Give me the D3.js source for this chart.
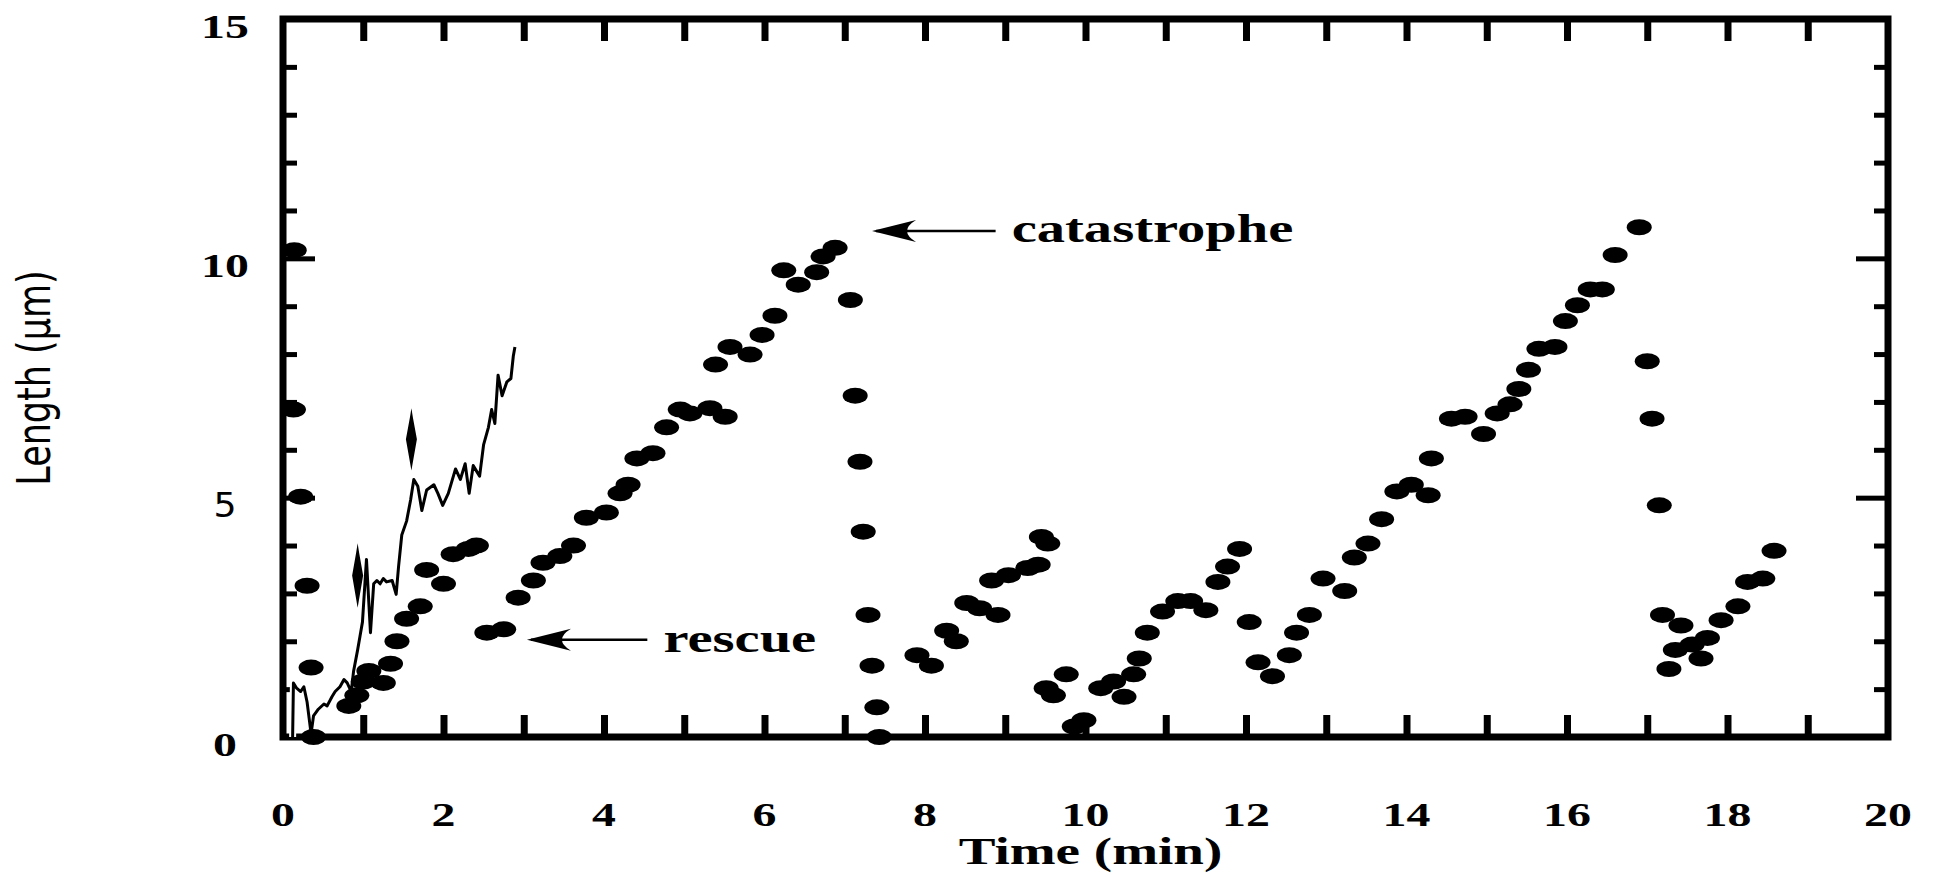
<!DOCTYPE html>
<html lang="en">
<head>
<meta charset="utf-8">
<script src="https://cdnjs.cloudflare.com/ajax/libs/d3/7.8.5/d3.min.js"></script>
<style>
  body { margin: 0; background: #fff; }
  svg { display: block; }
  .lbl { font-family: "Liberation Serif", "DejaVu Serif", serif; font-weight: bold; fill: #000; }
</style>
</head>
<body>
<script>
// ---- data (time in min, length in µm) ----
var dotTime = [
  0.14, 0.13, 0.22, 0.30, 0.35, 0.38,
  0.82, 0.92, 1.00, 1.07, 1.25, 1.34, 1.42, 1.54, 1.71, 1.79, 2.00, 2.12, 2.31, 2.41,
  2.54, 2.75, 2.93, 3.12, 3.24, 3.45, 3.62, 3.78, 4.03, 4.20, 4.30, 4.41, 4.61, 4.78, 4.95,
  5.07, 5.32, 5.51, 5.39, 5.57, 5.82, 5.97, 6.13, 6.24, 6.42, 6.65, 6.73, 6.88,
  7.07, 7.13, 7.19, 7.23, 7.29, 7.34, 7.40, 7.43,
  7.90, 8.08, 8.27, 8.39, 8.52, 8.68, 8.91, 8.83, 9.04, 9.28, 9.41, 9.45, 9.53,
  9.51, 9.60, 9.76, 9.86, 9.98,
  10.19, 10.35, 10.48, 10.60, 10.67, 10.77, 10.96, 11.15, 11.31, 11.50, 11.65, 11.77, 11.92,
  12.04, 12.15, 12.33, 12.54, 12.63, 12.79, 12.96, 13.23, 13.35, 13.52, 13.69, 13.88, 14.06,
  14.27, 14.31, 14.56, 14.73, 14.96, 15.13, 15.29, 15.40, 15.52, 15.65, 15.85, 15.98, 16.13,
  16.29, 16.44, 16.60, 16.90,
  17.00, 17.06, 17.15, 17.19, 17.42, 17.35, 17.27, 17.56, 17.67, 17.75, 17.92, 18.13, 18.25,
  18.44, 18.58
];
var dotLength = [
  10.17, 6.84, 5.02, 3.16, 1.45, 0.00,
  0.65, 0.87, 1.16, 1.38, 1.13, 1.53, 2.00, 2.47, 2.73, 3.49, 3.20, 3.82, 3.93, 4.00,
  2.18, 2.25, 2.91, 3.27, 3.64, 3.78, 4.00, 4.58, 4.69, 5.09, 5.27, 5.82, 5.93, 6.47, 6.84,
  6.76, 6.87, 6.69, 7.78, 8.15, 7.99, 8.40, 8.80, 9.75, 9.45, 9.71, 10.04, 10.22,
  9.13, 7.13, 5.75, 4.29, 2.55, 1.49, 0.62, 0.00,
  1.71, 1.49, 2.22, 2.00, 2.80, 2.69, 2.55, 3.27, 3.38, 3.53, 3.60, 4.18, 4.04,
  1.02, 0.87, 1.31, 0.22, 0.35,
  1.02, 1.16, 0.84, 1.31, 1.64, 2.18, 2.62, 2.84, 2.84, 2.65, 3.24, 3.56, 3.93,
  2.40, 1.56, 1.27, 1.71, 2.18, 2.55, 3.31, 3.05, 3.75, 4.04, 4.55, 5.13, 5.27,
  5.05, 5.82, 6.65, 6.69, 6.33, 6.76, 6.95, 7.27, 7.67, 8.11, 8.15, 8.69, 9.02,
  9.35, 9.35, 10.07, 10.65,
  7.85, 6.65, 4.84, 2.55, 2.33, 1.82, 1.42, 1.93, 1.64, 2.07, 2.44, 2.73, 3.24,
  3.31, 3.89
];

// continuous trace (thin line)
var traceTime = [0.12, 0.13, 0.17, 0.22, 0.26, 0.30, 0.35, 0.38, 0.44, 0.51, 0.55, 0.61, 0.65,
  0.71, 0.76, 0.80, 0.85, 0.88, 0.93, 0.96, 0.99, 1.04, 1.09, 1.13, 1.17, 1.21, 1.25, 1.29,
  1.36, 1.41, 1.44, 1.48, 1.54, 1.59, 1.63, 1.68, 1.73, 1.79, 1.88, 1.93, 1.99, 2.06, 2.15,
  2.21, 2.27, 2.32, 2.37, 2.45, 2.50, 2.56, 2.60, 2.64, 2.68, 2.73, 2.79, 2.84, 2.87, 2.89];
var traceLength = [0.00, 1.13, 1.02, 0.95, 1.05, 0.73, 0.07, 0.44, 0.58, 0.69, 0.65, 0.84, 0.95,
  1.05, 1.20, 1.13, 0.95, 1.38, 1.82, 2.11, 2.40, 3.71, 2.18, 3.20, 3.27, 3.20, 3.31, 3.24,
  3.27, 2.98, 3.56, 4.22, 4.51, 4.95, 5.38, 5.24, 4.73, 5.16, 5.27, 5.09, 4.84, 5.09, 5.60,
  5.38, 5.71, 5.09, 5.67, 5.45, 6.11, 6.47, 6.84, 6.55, 7.56, 7.13, 7.42, 7.49, 7.96, 8.15];

// spindle markers on the trace: time, top, bottom
var markTime = [0.93, 1.60];
var markTop = [4.05, 6.87];
var markBottom = [2.70, 5.57];

// axis ticks and labels
var xTickVals = d3.range(0, 21, 1);
var xLabelVals = [0, 2, 4, 6, 8, 10, 12, 14, 16, 18, 20];
var yTickVals = d3.range(0, 16, 1);
var yMajorVals = [0, 5, 10, 15];

// annotations: text, arrow tip (t, L), arrow tail t, text start t, text baseline L
var noteText = ["catastrophe", "rescue"];
var noteTipT = [7.34, 3.04];
var noteTipL = [10.57, 2.03];
var noteTailT = [8.88, 4.54];
var noteTextT = [9.08, 4.74];
var noteTextL = [10.34, 1.78];

var W = 1936, H = 875;
var SX = 1.45; // the scan is stretched sideways

var x = d3.scaleLinear().domain([0, 20]).range([283, 1888]);
var y = d3.scaleLinear().domain([0, 15]).range([737, 19]);

var svg = d3.select("body").append("svg")
    .attr("width", W)
    .attr("height", H);

// ticks (all pointing inward)
function ticks(axis, tr, w) {
    svg.append("g")
        .attr("transform", tr)
        .call(axis)
        .call(function(g) { g.select(".domain").remove(); })
        .selectAll("line")
        .attr("stroke", "#000")
        .attr("stroke-width", w);
}
var xt = xTickVals.filter(function(d) { return d > 0 && d < 20; });
ticks(d3.axisBottom(x).tickValues(xt).tickSize(-22).tickFormat(""), "translate(0," + y(0) + ")", 7);
ticks(d3.axisTop(x).tickValues(xt).tickSize(-22).tickFormat(""), "translate(0," + y(15) + ")", 7);
var ym = yTickVals.filter(function(d) { return yMajorVals.indexOf(d) < 0; });
var yM = yMajorVals.filter(function(d) { return d > 0 && d < 15; });
ticks(d3.axisLeft(y).tickValues(ym).tickSize(-14).tickFormat(""), "translate(" + x(0) + ",0)", 5);
ticks(d3.axisLeft(y).tickValues(yM).tickSize(-32).tickFormat(""), "translate(" + x(0) + ",0)", 5);
ticks(d3.axisRight(y).tickValues(ym).tickSize(-14).tickFormat(""), "translate(" + x(20) + ",0)", 5);
ticks(d3.axisRight(y).tickValues(yM).tickSize(-32).tickFormat(""), "translate(" + x(20) + ",0)", 5);

// frame
svg.append("rect")
    .attr("x", x(0)).attr("y", y(15))
    .attr("width", x(20) - x(0)).attr("height", y(0) - y(15))
    .attr("fill", "none")
    .attr("stroke", "#000")
    .attr("stroke-width", 7);

// tick labels
svg.selectAll(".xl").data(xLabelVals).enter().append("text")
    .attr("class", "lbl")
    .attr("text-anchor", "middle")
    .attr("font-size", 33)
    .attr("transform", function(d) { return "translate(" + x(d) + ",826) scale(" + SX + ",1)"; })
    .text(function(d) { return d; });

svg.selectAll(".yl").data(yMajorVals).enter().append("text")
    .attr("class", "lbl")
    .attr("text-anchor", "middle")
    .attr("font-size", 33)
    .style("font-family", function(d) { return d === 5 ? "'DejaVu Sans', sans-serif" : null; })
    .style("font-weight", function(d) { return d === 5 ? "normal" : null; })
    .attr("transform", function(d) { return "translate(225," + (y(d) + 19) + ") scale(" + (d === 5 ? 1.1 : SX) + ",1)"; })
    .text(function(d) { return d; });

// axis titles
svg.append("text")
    .attr("class", "lbl")
    .attr("text-anchor", "middle")
    .attr("font-size", 38)
    .attr("transform", "translate(" + ((x(0) + x(20)) / 2 + 5) + ",864) scale(" + SX + ",1)")
    .text("Time (min)");

svg.append("text")
    .attr("text-anchor", "middle")
    .attr("font-family", "'DejaVu Sans', sans-serif")
    .attr("font-size", 35)
    .attr("transform", "translate(50," + ((y(0) + y(15)) / 2) + ") rotate(-90) scale(1,1.3)")
    .text("Length (\u00b5m)");

// trace
var line = d3.line()
    .x(function(d, i) { return x(traceTime[i]); })
    .y(function(d, i) { return y(traceLength[i]); });
svg.append("path")
    .attr("d", line(traceTime))
    .attr("fill", "none")
    .attr("stroke", "#fff")
    .attr("stroke-width", 7)
    .attr("stroke-linejoin", "round");
svg.append("path")
    .attr("d", line(traceTime))
    .attr("fill", "none")
    .attr("stroke", "#000")
    .attr("stroke-width", 3)
    .attr("stroke-linejoin", "round");

// spindle markers
svg.selectAll(".mk").data(markTime).enter().append("path")
    .attr("fill", "#000")
    .attr("d", function(d, i) {
        var cx = x(d), t = y(markTop[i]), b = y(markBottom[i]), h = b - t;
        return "M" + cx + "," + t +
            "L" + (cx + 1.5) + "," + (t + 0.15 * h) +
            "L" + (cx + 5.5) + "," + (t + 0.5 * h) +
            "L" + cx + "," + b +
            "L" + (cx - 5.5) + "," + (t + 0.5 * h) +
            "L" + (cx - 1.5) + "," + (t + 0.15 * h) + "Z";
    });

// dots
svg.selectAll(".dot").data(dotTime).enter().append("ellipse")
    .attr("cx", function(d) { return x(d); })
    .attr("cy", function(d, i) { return y(dotLength[i]); })
    .attr("rx", 12.5)
    .attr("ry", 8)
    .attr("fill", "#000");

// annotations with arrows
noteText.forEach(function(txt, i) {
    var tx = x(noteTipT[i]), ty = y(noteTipL[i]), ex = x(noteTailT[i]);
    svg.append("line")
        .attr("x1", tx + 4).attr("y1", ty)
        .attr("x2", ex).attr("y2", ty)
        .attr("stroke", "#000")
        .attr("stroke-width", 2.5);
    svg.append("path")
        .attr("fill", "#000")
        .attr("d", "M" + tx + "," + ty +
            "L" + (tx + 44) + "," + (ty - 11) +
            "Q" + (tx + 26) + "," + ty + " " + (tx + 44) + "," + (ty + 11) + "Z");
    svg.append("text")
        .attr("class", "lbl")
        .attr("font-size", 39)
        .attr("transform", "translate(" + x(noteTextT[i]) + "," + y(noteTextL[i]) + ") scale(" + SX + ",1)")
        .text(txt);
});
</script>
</body>
</html>
